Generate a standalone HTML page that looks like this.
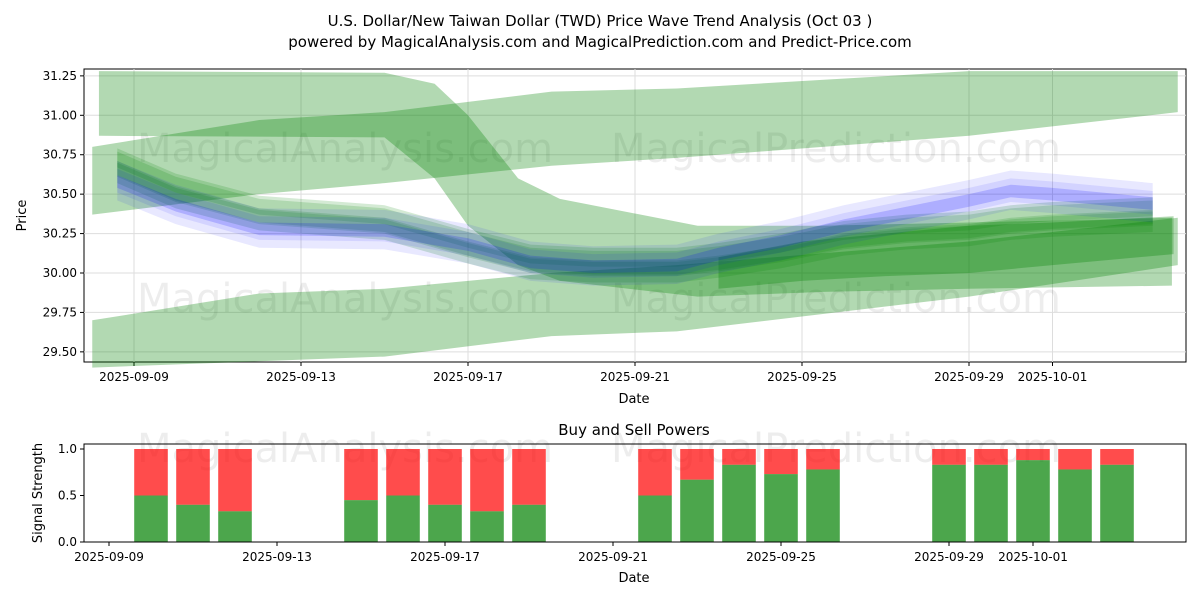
<!DOCTYPE html>
<html><head><meta charset="utf-8"><style>
body{margin:0;background:#fff;width:1200px;height:600px;overflow:hidden}
svg{font-family:"DejaVu Sans","Liberation Sans",sans-serif}
</style></head><body>
<svg id="c" width="1200" height="600">
<text x="600" y="26" text-anchor="middle" font-size="15">U.S. Dollar/New Taiwan Dollar (TWD) Price Wave Trend Analysis (Oct 03 )</text>
<text x="600" y="47" text-anchor="middle" font-size="15">powered by MagicalAnalysis.com and MagicalPrediction.com and Predict-Price.com</text>
<g id="topg"></g><g id="botg"></g>
</svg>
<script>
// day index 0 = 2025-09-09
const xTickLabels=["2025-09-09","2025-09-13","2025-09-17","2025-09-21","2025-09-25","2025-09-29","2025-10-01"];
const xTickDays=[0,4,8,12,16,20,22];
const yTicks=[29.5,29.75,30.0,30.25,30.5,30.75,31.0,31.25];
const bandDaysA=[-0.84,6,7.2,8,9.2,10.2,13.5,16.5,20,24.86];
const bandUpperA=[31.28,31.27,31.2,31.0,30.6,30.47,30.3,30.3,30.32,30.35];
const bandLowerA=[30.87,30.86,30.6,30.3,30.05,29.95,29.85,29.88,29.9,29.92];
const bandDaysB=[-1,3,6,10,13,20,25];
const bandUpperB=[30.8,30.97,31.02,31.15,31.17,31.28,31.28];
const bandLowerB=[30.37,30.5,30.57,30.68,30.73,30.87,31.02];
const bandUpperC=[29.7,29.87,29.9,30.0,30.05,30.2,30.35];
const bandLowerC=[29.4,29.44,29.47,29.6,29.63,29.85,30.05];
const midDays=[-0.4,1,3,6,8,9.5,11,13,14,15.5,17,18.5,20,21,22,24.4];
const blueCenter=[30.58,30.43,30.28,30.27,30.18,30.07,30.04,30.05,30.12,30.2,30.3,30.38,30.46,30.52,30.5,30.44];
const greenCenter=[30.66,30.5,30.36,30.3,30.15,30.05,30.03,30.03,30.06,30.12,30.2,30.24,30.26,30.3,30.32,30.35];
const lowGreenDays=[14,16,18,20,22,24.9];
const lowGreenUpper=[30.1,30.2,30.25,30.3,30.32,30.36];
const lowGreenLower=[29.9,29.95,29.98,30.0,30.05,30.12];
const barDays=[1,2,3,6,7,8,9,10,13,14,15,16,17,20,21,22,23,24];
const buyPower=[0.5,0.4,0.33,0.45,0.5,0.4,0.33,0.4,0.5,0.67,0.83,0.73,0.78,0.83,0.83,0.88,0.78,0.83];
const NS="http://www.w3.org/2000/svg";
const L=84,R=1186,T=69,B=362,BT=444,BB=542;
const x=d=>134+d*41.75;
const xb=d=>109+d*42.0;
const y=v=>273-(v-30)*157.7;
const yb=v=>BB-v*93;
function el(p,t,a){const e=document.createElementNS(NS,t);for(const k in a)e.setAttribute(k,a[k]);p.appendChild(e);return e;}
const topG=document.getElementById('topg'),botG=document.getElementById('botg');
let f=el(topG,'rect',{x:L,y:T,width:R-L,height:B-T,fill:'none',stroke:'#000'});

xTickDays.forEach((d,i)=>{
 el(topG,'line',{x1:x(d),x2:x(d),y1:T,y2:B,stroke:'#ddd'});
 el(topG,'line',{x1:x(d),x2:x(d),y1:B,y2:B+4,stroke:'#000'});
 let t=el(topG,'text',{x:x(d),y:B+19,'text-anchor':'middle','font-size':12});t.textContent=xTickLabels[i];
 
 el(botG,'line',{x1:xb(d),x2:xb(d),y1:BB,y2:BB+4,stroke:'#000'});
 let t2=el(botG,'text',{x:xb(d),y:BB+19,'text-anchor':'middle','font-size':12});t2.textContent=xTickLabels[i];
 
});
yTicks.forEach(v=>{
 el(topG,'line',{x1:L,x2:R,y1:y(v),y2:y(v),stroke:'#ddd'});
 el(topG,'line',{x1:L-4,x2:L,y1:y(v),y2:y(v),stroke:'#000'});
 let t=el(topG,'text',{x:L-7,y:y(v)+4,'text-anchor':'end','font-size':12});t.textContent=v.toFixed(2);
 
});
[[345,162],[836,162],[345,312],[836,312],[345,462],[836,462]].forEach(p=>{
 let t=el(topG,'text',{x:p[0],y:p[1],'text-anchor':'middle','font-size':40,fill:'rgba(0,0,0,0.07)'});
 t.textContent=p[0]<600?'MagicalAnalysis.com':'MagicalPrediction.com';
 
});
function band(days,up,lo,fill,name){
 let pts=days.map((d,i)=>x(d)+','+y(up[i])).concat(days.map((d,i)=>x(d)+','+y(lo[i])).reverse());
 let p=el(topG,'polygon',{points:pts.join(' '),fill:fill});
 
}
const G='rgba(0,128,0,0.3)';
band(bandDaysA,bandUpperA,bandLowerA,G,'trend-band-falling');
band(bandDaysB,bandUpperB,bandLowerB,G,'trend-band-upper');
band(bandDaysB,bandUpperC,bandLowerC,G,'trend-band-lower');
band(lowGreenDays,lowGreenUpper,lowGreenLower,G,'trend-band-right');
[[0.04,0.09],[-0.02,0.07],[0,0.04],[0.06,0.05]].forEach(o=>{
 band(midDays,greenCenter.map(v=>v+o[0]+o[1]),greenCenter.map(v=>v+o[0]-o[1]),'rgba(0,128,0,0.17)','wave-band-green');
});
[[0.03,0.1],[-0.04,0.08],[0,0.04],[0.02,0.06]].forEach(o=>{
 band(midDays,blueCenter.map(v=>v+o[0]+o[1]),blueCenter.map(v=>v+o[0]-o[1]),'rgba(0,0,255,0.09)','wave-band-blue');
});
let yl=el(topG,'text',{x:26,y:(T+B)/2,'text-anchor':'middle','font-size':13,transform:`rotate(-90 26 ${(T+B)/2})`});yl.textContent='Price';

let xl=el(topG,'text',{x:634,y:403,'text-anchor':'middle','font-size':13});xl.textContent='Date';

let bt=el(botG,'text',{x:634,y:435,'text-anchor':'middle','font-size':15});bt.textContent='Buy and Sell Powers';

barDays.forEach((d,i)=>{
 let w=0.8*42,bx=xb(d)-w/2;
 let r=el(botG,'rect',{x:bx,y:yb(1),width:w,height:yb(buyPower[i])-yb(1),fill:'rgba(255,0,0,0.7)'});
 
 let g=el(botG,'rect',{x:bx,y:yb(buyPower[i]),width:w,height:BB-yb(buyPower[i]),fill:'rgba(0,128,0,0.7)'});
 
});
let f2=el(botG,'rect',{x:L,y:BT,width:R-L,height:BB-BT,fill:'none',stroke:'#000'});

[0,0.5,1].forEach(v=>{
 el(botG,'line',{x1:L-4,x2:L,y1:yb(v),y2:yb(v),stroke:'#000'});
 let t=el(botG,'text',{x:L-7,y:yb(v)+4,'text-anchor':'end','font-size':12});t.textContent=v.toFixed(1);
 
});
let yl2=el(botG,'text',{x:42,y:493,'text-anchor':'middle','font-size':13,transform:'rotate(-90 42 493)'});yl2.textContent='Signal Strength';

let xl2=el(botG,'text',{x:634,y:582,'text-anchor':'middle','font-size':13});xl2.textContent='Date';

</script>
</body></html>
